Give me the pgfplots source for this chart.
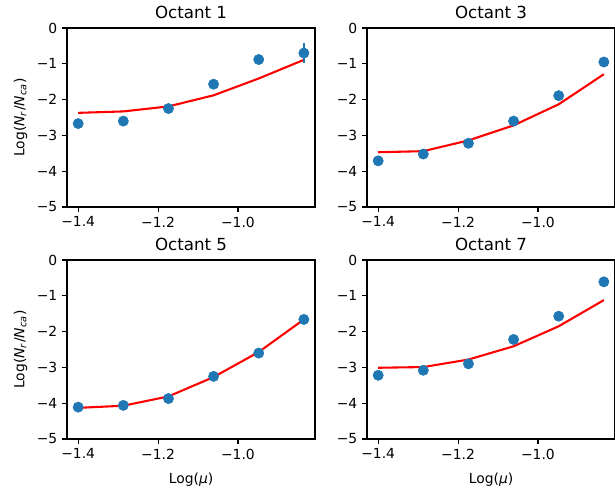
\documentclass[border=0pt]{standalone}
\usepackage{fontspec}
\setmainfont{DejaVu Sans}
\usepackage{pgfplots}
\pgfplotsset{compat=1.18}
\definecolor{mblue}{HTML}{1F77B4}
\pgfplotsset{
  oct/.style={
    scale only axis, width=178.6pt, height=128.9pt, anchor=north west,
    xmin=-1.428, xmax=-0.807, ymin=-5, ymax=0,
    xtick={-1.4,-1.2,-1.0}, xticklabels={−1.4,−1.2,−1.0},
    ytick={-5,-4,-3,-2,-1,0}, yticklabels={−5,−4,−3,−2,−1,0},
    tick align=outside, tick pos=left,
    major tick length=3.5pt,
    every tick/.style={black, line width=0.8pt},
    axis line style={line width=0.8pt},
    tick label style={font=\fontsize{10}{12}\selectfont},
    title style={font=\fontsize{12}{14}\selectfont, yshift=-3pt},
    label style={font=\fontsize{10}{12}\selectfont},
    xlabel style={yshift=-3pt},
  },
  pts/.style={only marks, mark=*, mark size=3.7pt, color=mblue, mark options={draw=mblue, fill=mblue}},
  fit/.style={red, line width=1.5pt, no marks},
}
\newcommand{\ylab}{Log(\textit{N}\textsubscript{\textit{r}}/\textit{N}\textsubscript{\textit{ca}})}
\begin{document}
\begin{tikzpicture}
\useasboundingbox (0,0) rectangle (442.8pt,-354.96pt);
% Octant 1
\begin{axis}[oct, at={(48.24pt,-20.16pt)}, title={Octant 1}, ylabel={\ylab}]
\addplot[fit] coordinates {(-1.400,-2.37) (-1.287,-2.33) (-1.174,-2.19) (-1.061,-1.88) (-0.948,-1.41) (-0.835,-0.89)};
\addplot[pts, error bars/.cd, y dir=both, y explicit, error bar style={line width=1.5pt, mblue}, error mark=none] coordinates {
(-1.400,-2.67) +- (0,0.04)
(-1.287,-2.60) +- (0,0.04)
(-1.174,-2.25) +- (0,0.04)
(-1.061,-1.57) +- (0,0.06)
(-0.948,-0.88) +- (0,0.13)
(-0.835,-0.70) +- (0,0.27)};
\end{axis}
% Octant 3
\begin{axis}[oct, at={(264.24pt,-20.16pt)}, title={Octant 3}]
\addplot[fit] coordinates {(-1.400,-3.47) (-1.287,-3.44) (-1.174,-3.14) (-1.061,-2.72) (-0.948,-2.13) (-0.835,-1.29)};
\addplot[pts] coordinates {(-1.400,-3.71) (-1.287,-3.52) (-1.174,-3.22) (-1.061,-2.60) (-0.948,-1.89) (-0.835,-0.95)};
\end{axis}
% Octant 5
\begin{axis}[oct, at={(48.24pt,-187.2pt)}, title={Octant 5}, ylabel={\ylab}, xlabel={Log(\textit{μ})}]
\addplot[fit] coordinates {(-1.400,-4.13) (-1.287,-4.07) (-1.174,-3.81) (-1.061,-3.27) (-0.948,-2.57) (-0.835,-1.66)};
\addplot[pts] coordinates {(-1.400,-4.11) (-1.287,-4.06) (-1.174,-3.87) (-1.061,-3.25) (-0.948,-2.60) (-0.835,-1.66)};
\end{axis}
% Octant 7
\begin{axis}[oct, at={(264.24pt,-187.2pt)}, title={Octant 7}, xlabel={Log(\textit{μ})}]
\addplot[fit] coordinates {(-1.400,-3.01) (-1.287,-2.99) (-1.174,-2.78) (-1.061,-2.41) (-0.948,-1.85) (-0.835,-1.12)};
\addplot[pts] coordinates {(-1.400,-3.22) (-1.287,-3.08) (-1.174,-2.90) (-1.061,-2.22) (-0.948,-1.57) (-0.835,-0.61)};
\end{axis}
\end{tikzpicture}
\end{document}
